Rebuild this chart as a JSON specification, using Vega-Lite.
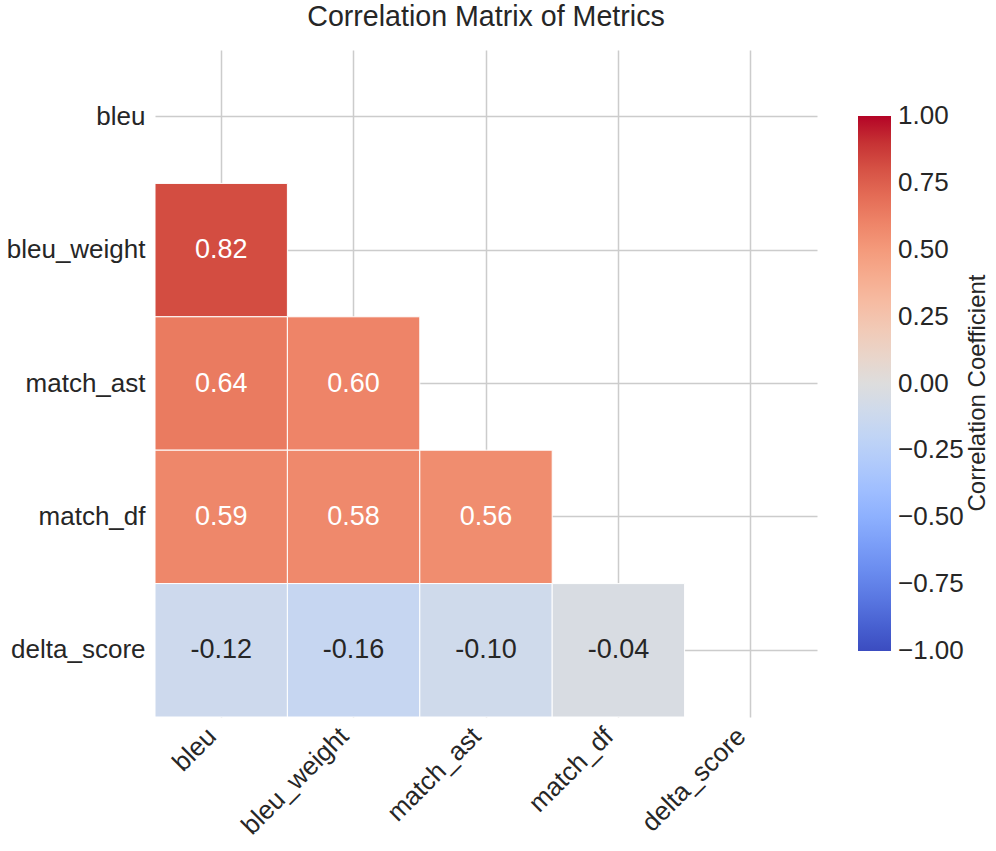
{
  "$schema": "https://vega.github.io/schema/vega-lite/v6.json",
  "autosize": {"type": "none"},
  "padding": {"left": 155, "top": 50, "right": 179, "bottom": 134},
  "width": 662,
  "height": 667,
  "background": "white",
  "title": {
    "text": "Correlation Matrix of Metrics",
    "fontSize": 28.6,
    "font": "Liberation Sans",
    "fontWeight": "normal",
    "color": "#262626",
    "anchor": "middle",
    "offset": 18
  },
  "data": {
    "values": [
      {"row": "bleu_weight", "col": "bleu", "r": 0.82},
      {"row": "match_ast", "col": "bleu", "r": 0.64},
      {"row": "match_ast", "col": "bleu_weight", "r": 0.60},
      {"row": "match_df", "col": "bleu", "r": 0.59},
      {"row": "match_df", "col": "bleu_weight", "r": 0.58},
      {"row": "match_df", "col": "match_ast", "r": 0.56},
      {"row": "delta_score", "col": "bleu", "r": -0.12},
      {"row": "delta_score", "col": "bleu_weight", "r": -0.16},
      {"row": "delta_score", "col": "match_ast", "r": -0.10},
      {"row": "delta_score", "col": "match_df", "r": -0.04}
    ]
  },
  "transform": [
    {"calculate": "replace(format(datum.r, '.2f'), '\u2212', '-')", "as": "label"}
  ],
  "encoding": {
    "x": {
      "field": "col",
      "type": "nominal",
      "sort": null,
      "scale": {"domain": ["bleu", "bleu_weight", "match_ast", "match_df", "delta_score"], "paddingInner": 0, "paddingOuter": 0},
      "axis": {
        "title": null,
        "orient": "bottom",
        "labelAngle": -45,
        "labelAlign": "right",
        "labelBaseline": "bottom",
        "labelPadding": 24
      }
    },
    "y": {
      "field": "row",
      "type": "nominal",
      "sort": null,
      "scale": {"domain": ["bleu", "bleu_weight", "match_ast", "match_df", "delta_score"], "paddingInner": 0, "paddingOuter": 0},
      "axis": {"title": null, "labelPadding": 10}
    }
  },
  "layer": [
    {
      "mark": {"type": "rect", "stroke": "white", "strokeWidth": 1},
      "encoding": {
        "color": {
          "field": "r",
          "type": "quantitative",
          "title": "Correlation Coefficient",
          "scale": {
            "type": "linear",
            "domain": [-1, -0.875, -0.75, -0.625, -0.5, -0.375, -0.25, -0.125, 0, 0.125, 0.25, 0.375, 0.5, 0.625, 0.75, 0.875, 1],
            "range": ["#3b4cc0", "#4d68d7", "#6282ea", "#779af7", "#8db0fe", "#a3c2ff", "#b8d0f9", "#ccd9ee", "#dddddd", "#ecd3c5", "#f5c4ad", "#f7b194", "#f49a7b", "#ec7f63", "#de604d", "#cb3e38", "#b40426"],
            "interpolate": "rgb"
          },
          "legend": {
            "orient": "none",
            "legendX": 703,
            "legendY": 66,
            "direction": "vertical",
            "gradientLength": 535,
            "gradientThickness": 33,
            "gradientStrokeWidth": 0,
            "values": [-1, -0.75, -0.5, -0.25, 0, 0.25, 0.5, 0.75, 1],
            "format": ".2f",
            "labelFontSize": 26,
            "labelFont": "Liberation Sans",
            "labelColor": "#262626",
            "labelBaseline": "middle",
            "labelOffset": 7,
            "titleFontSize": 24,
            "titleFont": "Liberation Sans",
            "titleFontWeight": "normal",
            "titleColor": "#262626",
            "titleOrient": "right",
            "titleAnchor": "middle",
            "titlePadding": 2,
            "titleLimit": 600,
            "padding": 0,
            "encode": {
              "labels": {"update": {"baseline": {"value": "middle"}}},
              "title": {"update": {"angle": {"value": -90}, "baseline": {"value": "top"}, "dx": {"value": -9}}}
            }
          }
        }
      }
    },
    {
      "mark": {"type": "text", "fontSize": 27, "font": "Liberation Sans", "baseline": "middle", "align": "center"},
      "encoding": {
        "text": {"field": "label", "type": "nominal"},
        "color": {
          "condition": {"test": "datum.r > 0.3", "value": "white"},
          "value": "#262626"
        }
      }
    }
  ],
  "config": {
    "view": {"stroke": null},
    "font": "Liberation Sans",
    "axis": {
      "domain": false,
      "ticks": false,
      "grid": true,
      "zindex": 0,
      "gridColor": "#cccccc",
      "gridWidth": 1.5,
      "bandPosition": 0.5,
      "labelFontSize": 26,
      "labelFont": "Liberation Sans",
      "labelColor": "#262626"
    }
  }
}
